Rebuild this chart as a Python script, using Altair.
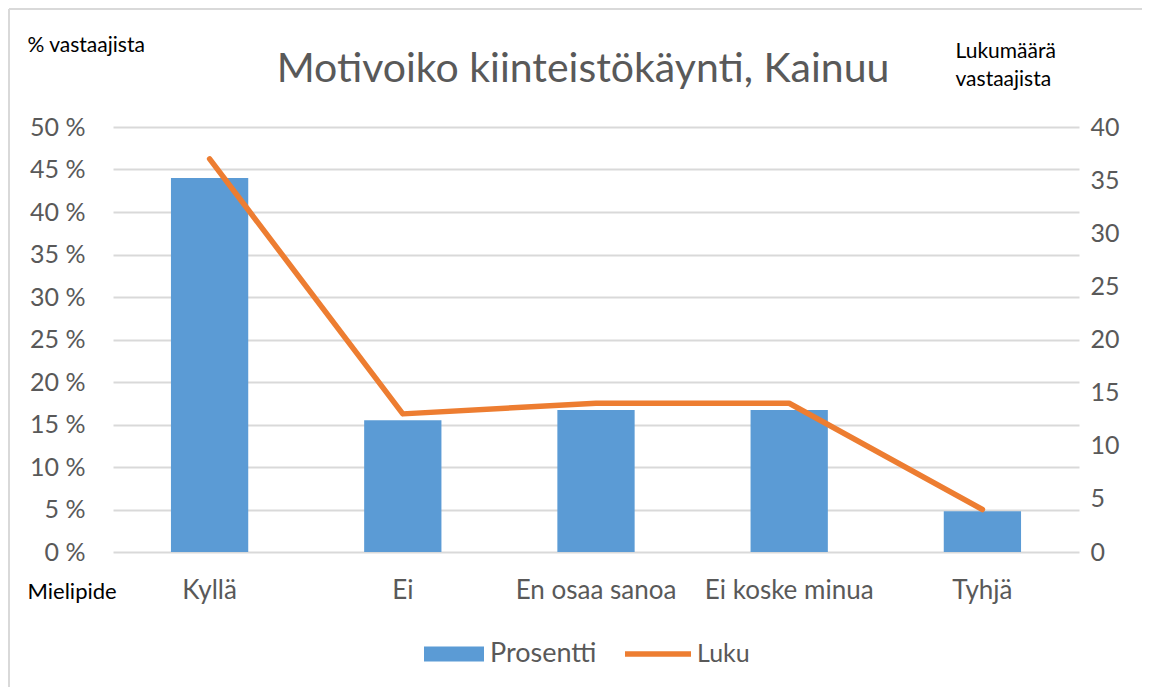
import altair as alt
import pandas as pd

categories = ["Kyllä", "Ei", "En osaa sanoa", "Ei koske minua", "Tyhjä"]
prosentti = [44.0, 15.5, 16.7, 16.7, 4.8]
luku = [37, 13, 14, 14, 4]
pct_ticks = [0, 5, 10, 15, 20, 25, 30, 35, 40, 45, 50]
count_ticks = [0, 5, 10, 15, 20, 25, 30, 35, 40]
title_text = ["Motivoiko kiinteistökäynti, Kainuu"]

df = pd.DataFrame({
    "Mielipide": categories,
    "Prosentti": prosentti,
    "Luku": luku,
    "bar_series": ["Prosentti"] * len(categories),
    "line_series": ["Luku"] * len(categories),
})

FONT = "Lato"
GREY = "#595959"
W, H = 966, 425
LBL = 25
XLBL = 26
TTL = 21

xenc = alt.X(
    "Mielipide:N",
    sort=categories,
    scale=alt.Scale(paddingInner=0.6, paddingOuter=0.3),
    axis=alt.Axis(
        title="Mielipide", titleAngle=0, titleAlign="left", titleBaseline="middle",
        titleX=-86, titleY=39, titleFontSize=22, titleFontWeight="normal", titleColor="#000000",
        titleFont=FONT,
        labelAngle=0, labelFontSize=XLBL, labelColor=GREY, labelPadding=25, labelFont=FONT,
        ticks=False, domain=False, grid=False,
    ),
)

one = pd.DataFrame({"a": [0]})
frame_top = alt.Chart(one).mark_rule(stroke="#D9D9D9", strokeWidth=2).encode(
    x=alt.value(-104), x2=alt.value(1100), y=alt.value(-118)
)
frame_left = alt.Chart(one).mark_rule(stroke="#D9D9D9", strokeWidth=2).encode(
    x=alt.value(-104), y=alt.value(-118), y2=alt.value(700)
)

title = alt.Chart(pd.DataFrame({"t": title_text})).mark_text(
    fontSize=41, font=FONT, color=GREY, align="center", baseline="middle"
).encode(
    text="t:N", x=alt.value(470), y=alt.value(-57)
)

bars = alt.Chart(df).mark_bar(color="#5B9BD5").encode(
    x=xenc,
    y=alt.Y(
        "Prosentti:Q",
        scale=alt.Scale(domain=[0, 50], nice=False),
        axis=alt.Axis(
            values=pct_ticks, labelExpr="datum.value + ' %'",
            title="% vastaajista", titleAngle=0, titleAlign="left", titleBaseline="middle",
            titleX=-86, titleY=-82, titleFontSize=TTL, titleFontWeight="normal", titleColor="#000000",
            titleFont=FONT,
            labelFontSize=LBL, labelColor=GREY, labelPadding=28, labelFont=FONT,
            ticks=False, domain=False, grid=True, gridColor="#D9D9D9", gridWidth=2,
        ),
    ),
    fill=alt.Fill(
        "bar_series:N",
        scale=alt.Scale(domain=["Prosentti"], range=["#5B9BD5"]),
        legend=alt.Legend(
            orient="none", legendX=311, legendY=497, title=None, padding=0,
            symbolType="M-1,-0.25H1V0.25H-1Z", symbolSize=3600, symbolStrokeWidth=0,
            labelFontSize=27, labelColor=GREY, labelFont=FONT, labelOffset=6,
        ),
    ),
)

line = alt.Chart(df).mark_line(
    color="#ED7D31", strokeWidth=5.5, strokeCap="round", strokeJoin="round"
).encode(
    x=alt.X("Mielipide:N", sort=categories),
    y=alt.Y(
        "Luku:Q",
        scale=alt.Scale(domain=[0, 40], nice=False),
        axis=alt.Axis(
            orient="right", values=count_ticks,
            title=["Lukumäärä", "vastaajista"], titleAngle=0, titleAlign="left",
            titleBaseline="middle", titleX=-124, titleY=-76, titleLineHeight=28,
            titleFontSize=TTL, titleFontWeight="normal", titleColor="#000000", titleFont=FONT,
            labelFontSize=LBL, labelColor=GREY, labelPadding=11, labelFont=FONT,
            ticks=False, domain=False, grid=False,
        ),
    ),
    stroke=alt.Stroke(
        "line_series:N",
        scale=alt.Scale(domain=["Luku"], range=["#ED7D31"]),
        legend=alt.Legend(
            orient="none", legendX=509, legendY=491, title=None, padding=0,
            symbolType="stroke", symbolSize=4356, symbolStrokeWidth=5.5,
            labelFontSize=LBL, labelColor=GREY, labelFont=FONT, labelOffset=3,
        ),
    ),
)

chart = alt.layer(frame_top, frame_left, title, bars, line).resolve_scale(
    y="independent", fill="independent", stroke="independent"
).properties(
    width=W,
    height=H,
    autosize=alt.AutoSizeParams(type="none"),
    padding={"left": 105, "top": 119, "right": 63, "bottom": 135},
).configure_view(stroke=None)

chart.save("out.html", embed_options={"renderer": "svg", "actions": False})
